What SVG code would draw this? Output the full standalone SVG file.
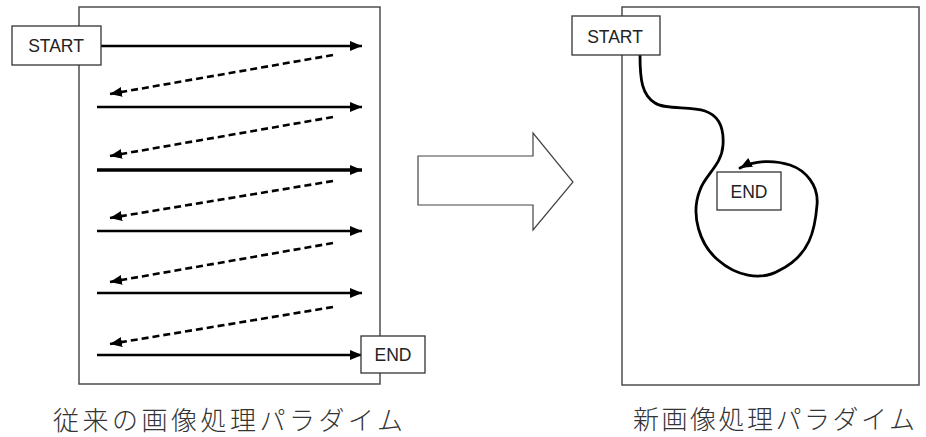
<svg xmlns="http://www.w3.org/2000/svg" width="926" height="437" viewBox="0 0 926 437">
<style>
.frame{fill:#fff;stroke:#4d4d4d;stroke-width:1.5}
.box{fill:#fff;stroke:#333;stroke-width:1.3}
.lbl{font-family:"Liberation Sans",Arial,sans-serif;font-size:17.5px;fill:#222;text-anchor:middle}
.cap{font-family:"Noto Sans CJK JP",sans-serif;font-size:26px;font-weight:300;fill:#333}
.solid{stroke:#000;stroke-width:2.6;fill:none;marker-end:url(#ah)}
.dash{stroke:#000;stroke-width:2.6;fill:none;stroke-dasharray:7,4;marker-end:url(#ah)}
.curve{stroke:#000;stroke-width:2.8;fill:none;stroke-linecap:round;stroke-linejoin:round;marker-end:url(#ah)}
</style>
<defs>
<marker id="ah" markerUnits="userSpaceOnUse" markerWidth="13" markerHeight="11" refX="12" refY="5" orient="auto">
<path d="M0,0 L12,5 L0,10 z" fill="#000"/>
</marker>
</defs>
<rect width="926" height="437" fill="#fff"/>
<g id="left-frame"><rect class="frame" x="79" y="7" width="301" height="377"/></g>
<g id="right-frame"><rect class="frame" x="622" y="7" width="297" height="378"/></g>
<g id="connectors">
<line class="solid" x1="101" y1="46" x2="362" y2="46"/>
<line class="dash" x1="333" y1="55" x2="110" y2="94"/>
<line class="solid" x1="97" y1="107" x2="362" y2="107"/>
<line class="dash" x1="333" y1="117" x2="110" y2="156"/>
<line class="solid" x1="97" y1="170" x2="362" y2="170" style="stroke-width:3.4"/>
<line class="dash" x1="333" y1="181" x2="110" y2="218"/>
<line class="solid" x1="97" y1="231" x2="362" y2="231"/>
<line class="dash" x1="333" y1="243" x2="110" y2="282"/>
<line class="solid" x1="97" y1="293" x2="362" y2="293"/>
<line class="dash" x1="333" y1="307" x2="110" y2="344"/>
<line class="solid" x1="97" y1="355" x2="362" y2="355"/>
<path class="curve" d="M640,55 C640,80 642,95 655,103 C665,110 690,106 705,111 C720,116 724,130 723,145 C722,165 705,175 700,190 C690,215 700,245 718,260 C735,275 760,282 780,270 C810,255 815,230 817,205 C819,185 805,170 790,165 C775,160 755,160 740,168"/>
</g>
<g id="start-left"><rect class="box" x="12" y="26" width="89" height="39"/><text class="lbl" x="56" y="52">START</text></g>
<g id="end-left"><rect class="box" x="361" y="336" width="64" height="37"/><text class="lbl" x="393" y="361">END</text></g>
<g id="start-right"><rect class="box" x="572" y="16" width="88" height="39"/><text class="lbl" x="615" y="43">START</text></g>
<g id="end-right"><rect class="box" x="717" y="172" width="64" height="38"/><text class="lbl" x="749" y="198">END</text></g>
<g id="big-arrow"><polygon points="418,156 533,156 533,133 573,182 533,230 533,205 418,205" fill="#fff" stroke="#444" stroke-width="1.2"/></g>
<g id="captions">
<text class="cap" x="53" y="430" textLength="350" lengthAdjust="spacing">従来の画像処理パラダイム</text>
<text class="cap" x="633" y="429" textLength="282" lengthAdjust="spacing">新画像処理パラダイム</text>
</g>
</svg>
